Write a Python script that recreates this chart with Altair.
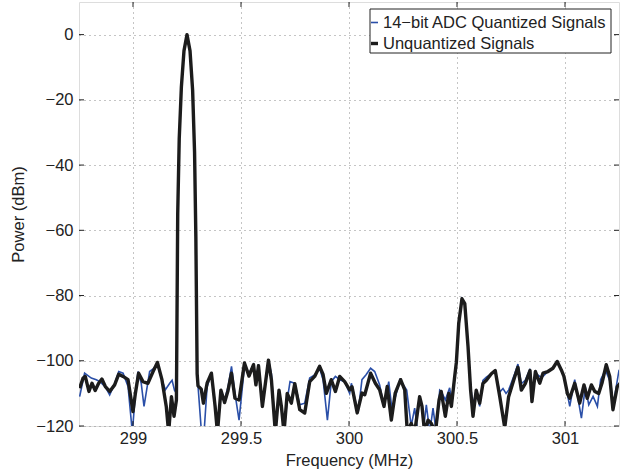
import altair as alt
import pandas as pd

# ---- Data ----
unq_freq = [
    298.753, 298.769, 298.779, 298.796, 298.810, 298.825, 298.841, 298.856, 298.872, 298.892,
    298.915, 298.934, 298.954, 298.977, 299.000, 299.011, 299.026, 299.046, 299.069, 299.093,
    299.113, 299.134, 299.154, 299.165, 299.178, 299.190, 299.201, 299.207, 299.214, 299.224,
    299.236, 299.250, 299.264, 299.276, 299.285, 299.291, 299.297, 299.301, 299.316, 299.326,
    299.343, 299.363, 299.380, 299.391, 299.407, 299.424, 299.440, 299.456, 299.472, 299.491,
    299.516, 299.537, 299.558, 299.569, 299.581, 299.599, 299.627, 299.641, 299.659, 299.676,
    299.687, 299.699, 299.714, 299.733, 299.749, 299.772, 299.795, 299.818, 299.841, 299.864,
    299.880, 299.895, 299.918, 299.937, 299.957, 299.980, 300.003, 300.014, 300.038, 300.060,
    300.073, 300.100, 300.122, 300.142, 300.162, 300.177, 300.196, 300.214, 300.239, 300.258,
    300.270, 300.288, 300.304, 300.327, 300.338, 300.350, 300.366, 300.381, 300.400, 300.417,
    300.427, 300.446, 300.462, 300.474, 300.489, 300.497, 300.508, 300.523, 300.536, 300.551,
    300.563, 300.574, 300.589, 300.605, 300.620, 300.636, 300.659, 300.677, 300.698, 300.721,
    300.739, 300.767, 300.782, 300.798, 300.816, 300.838, 300.847, 300.863, 300.883, 300.898,
    300.921, 300.944, 300.964, 300.983, 300.995, 301.011, 301.022, 301.045, 301.068, 301.088,
    301.103, 301.122, 301.138, 301.156, 301.171, 301.191, 301.207, 301.222, 301.242, 301.255,
]
unq_power = [
    -108.4, -105.3, -104.8, -109.4, -106.9, -109.1, -106.9, -105.6, -107.9, -109.4,
    -107.4, -104.1, -104.8, -105.8, -115.6, -110.0, -103.8, -106.4, -106.9, -103.3,
    -100.5, -105.8, -114.0, -122.0, -111.0, -117.0, -112.0, -55.0, -32.0, -16.0,
    -5.0, 0.0, -5.0, -17.0, -36.0, -62.0, -104.0, -107.7, -108.7, -113.0,
    -106.9, -103.8, -113.9, -122.0, -109.0, -112.8, -109.1, -103.8, -111.5, -112.0,
    -100.7, -104.7, -101.2, -107.4, -101.5, -114.0, -99.8, -106.0, -122.0, -109.0,
    -114.0, -122.0, -110.0, -113.0, -107.0, -115.0, -116.0, -106.4, -104.8, -101.7,
    -104.2, -110.0, -105.8, -109.4, -104.8, -106.4, -108.9, -108.0, -116.0, -109.9,
    -110.4, -103.8, -106.9, -108.9, -114.0, -107.9, -118.2, -109.9, -105.8, -108.9,
    -122.0, -119.2, -122.0, -111.0, -114.0, -122.0, -118.2, -119.2, -122.0, -112.0,
    -109.4, -117.0, -110.0, -114.0, -105.0, -100.5, -88.6, -81.0, -82.5, -95.6,
    -109.0, -117.0, -109.0, -113.0, -107.0, -106.0, -104.0, -103.0, -111.0, -120.5,
    -111.0, -105.0, -102.0, -109.0, -107.0, -103.0, -112.5, -103.3, -106.9, -103.8,
    -103.3, -102.3, -100.2, -102.8, -104.8, -110.0, -111.5, -106.9, -113.0, -107.4,
    -111.5, -107.4, -109.4, -110.0, -106.9, -101.2, -104.8, -115.0, -107.9, -106.9,
]

q_freq = [
    298.753, 298.776, 298.807, 298.830, 298.847, 298.872, 298.892, 298.915, 298.934, 298.954,
    298.977, 298.997, 299.011, 299.023, 299.038, 299.051, 299.077, 299.093, 299.113, 299.134,
    299.150, 299.170, 299.181, 299.192, 299.201, 299.207, 299.214, 299.224, 299.236, 299.250,
    299.264, 299.276, 299.285, 299.291, 299.297, 299.301, 299.317, 299.329, 299.343, 299.363,
    299.380, 299.391, 299.407, 299.424, 299.440, 299.456, 299.472, 299.491, 299.516, 299.537,
    299.558, 299.569, 299.581, 299.599, 299.627, 299.641, 299.659, 299.676, 299.687, 299.699,
    299.714, 299.727, 299.749, 299.772, 299.795, 299.818, 299.841, 299.864, 299.880, 299.900,
    299.918, 299.937, 299.957, 299.980, 300.003, 300.011, 300.042, 300.060, 300.079, 300.100,
    300.119, 300.142, 300.162, 300.184, 300.199, 300.236, 300.267, 300.288, 300.304, 300.319,
    300.343, 300.358, 300.374, 300.389, 300.404, 300.420, 300.427, 300.446, 300.466, 300.474,
    300.489, 300.497, 300.508, 300.523, 300.536, 300.551, 300.563, 300.574, 300.589, 300.605,
    300.620, 300.636, 300.659, 300.677, 300.698, 300.713, 300.727, 300.739, 300.767, 300.782,
    300.798, 300.816, 300.838, 300.847, 300.863, 300.883, 300.898, 300.921, 300.944, 300.964,
    300.983, 300.995, 301.022, 301.045, 301.076, 301.094, 301.110, 301.130, 301.150, 301.165,
    301.187, 301.212, 301.222, 301.249, 301.255,
]
q_power = [
    -111.0, -103.8, -105.3, -105.8, -106.4, -108.0, -110.5, -107.0, -103.3, -103.8,
    -107.9, -122.0, -110.0, -103.3, -106.9, -114.0, -103.3, -102.5, -101.2, -105.8,
    -108.9, -106.9, -106.0, -109.0, -110.0, -55.0, -32.0, -16.0, -5.0, 0.0,
    -5.0, -17.0, -36.0, -62.0, -104.0, -107.7, -122.0, -122.0, -108.0, -103.8,
    -113.0, -122.0, -110.0, -112.0, -108.0, -101.7, -110.0, -118.2, -101.7, -103.8,
    -101.2, -106.0, -101.0, -114.0, -99.8, -104.0, -122.0, -109.0, -114.0, -122.0,
    -112.0, -106.4, -106.9, -113.5, -113.0, -105.3, -104.3, -102.3, -105.8, -118.2,
    -106.4, -104.8, -105.8, -106.4, -110.0, -106.9, -116.0, -105.8, -104.3, -102.3,
    -103.3, -107.4, -114.0, -106.4, -115.0, -105.8, -109.0, -120.0, -114.5, -122.0,
    -122.0, -113.5, -122.0, -114.5, -122.0, -109.0, -109.4, -112.0, -108.3, -112.0,
    -105.0, -100.5, -88.6, -81.0, -82.5, -95.6, -108.0, -113.5, -109.0, -114.0,
    -106.0, -105.0, -104.0, -103.5, -109.6, -108.5, -110.0, -109.0, -104.0, -101.0,
    -107.0, -106.0, -102.5, -110.0, -103.8, -104.8, -104.8, -103.3, -102.3, -100.2,
    -102.8, -104.8, -114.0, -105.8, -117.6, -107.9, -113.5, -110.9, -114.0, -105.8,
    -102.8, -106.9, -114.0, -103.3, -104.0,
]

x_ticks = [299, 299.5, 300, 300.5, 301]
y_ticks = [-120, -100, -80, -60, -40, -20, 0]
x_domain = [298.75, 301.25]
y_domain = [-120, 10]
legend_labels = ["14\u2212bit ADC Quantized Signals", "Unquantized Signals"]
series_colors = ["#2a4fa8", "#1c1c1c"]

# ---- Styling ----
W, H = 540, 424
FONT = "Liberation Sans"
FS = 16.5
INK = "#222222"

xs = alt.Scale(domain=x_domain, nice=False, zero=False)
ys = alt.Scale(domain=y_domain, nice=False, zero=False)

x_axis = alt.Axis(values=x_ticks, format="~g", title="Frequency (MHz)", grid=True,
                  gridColor="#8a8a8a", gridDash=[1, 4], gridWidth=1, ticks=False, domain=False,
                  labelFont=FONT, labelFontSize=FS, labelColor=INK, labelPadding=4,
                  titleFont=FONT, titleFontSize=FS, titleFontWeight="normal", titleColor=INK,
                  titlePadding=6)
y_axis = alt.Axis(values=y_ticks, title="Power (dBm)", grid=True,
                  gridColor="#8a8a8a", gridDash=[1, 4], gridWidth=1, ticks=False, domain=False,
                  labelFont=FONT, labelFontSize=FS, labelColor=INK, labelPadding=6,
                  titleFont=FONT, titleFontSize=FS, titleFontWeight="normal", titleColor=INK,
                  titlePadding=9)

def X(field="f"):
    return alt.X(f"{field}:Q", scale=xs, axis=x_axis)

def Y(field="p"):
    return alt.Y(f"{field}:Q", scale=ys, axis=y_axis)

df_q = pd.DataFrame({"f": q_freq, "p": q_power})
df_u = pd.DataFrame({"f": unq_freq, "p": unq_power})

quant = alt.Chart(df_q).mark_line(color=series_colors[0], strokeWidth=1.6, clip=True).encode(x=X(), y=Y())
unq = alt.Chart(df_u).mark_line(color=series_colors[1], strokeWidth=3.4, clip=True,
                                strokeJoin="round").encode(x=X(), y=Y())

# inward ticks (MATLAB style)
yt = pd.DataFrame({"p": y_ticks})
xt = pd.DataFrame({"f": x_ticks})
tick_l = alt.Chart(yt).mark_rule(color=INK).encode(y=Y(), x=alt.value(0), x2=alt.value(5))
tick_r = alt.Chart(yt).mark_rule(color=INK).encode(y=Y(), x=alt.value(W), x2=alt.value(W - 5))
tick_b = alt.Chart(xt).mark_rule(color=INK).encode(x=X(), y=alt.value(H), y2=alt.value(H - 5))
tick_t = alt.Chart(xt).mark_rule(color=INK).encode(x=X(), y=alt.value(0), y2=alt.value(5))

# legend box
leg_df = pd.DataFrame({"label": legend_labels})
box = alt.Chart(leg_df.head(1)).mark_rect(fill="white", stroke=INK, strokeWidth=1).encode(
    x=alt.value(291), x2=alt.value(532), y=alt.value(7), y2=alt.value(51))
rows = []
row_y = [20.5, 41.5]
widths = [1.6, 3.4]
for i in range(2):
    d = leg_df.iloc[[i]]
    rows.append(alt.Chart(d).mark_rule(color=series_colors[i], strokeWidth=widths[i]).encode(
        x=alt.value(292), x2=alt.value(299), y=alt.value(row_y[i])))
    rows.append(alt.Chart(d).mark_text(font=FONT, fontSize=FS, color=INK, align="left",
                                        baseline="middle").encode(
        x=alt.value(304), y=alt.value(row_y[i] + 0.5), text="label:N"))

chart = alt.layer(quant, unq, tick_l, tick_r, tick_b, tick_t, box, *rows).properties(
    width=W, height=H,
    padding={"left": 79, "top": 2, "right": 12, "bottom": 48},
    autosize=alt.AutoSizeParams(type="none"),
).configure_view(stroke=INK, strokeWidth=1.2).configure(background="white")

chart.save("out.html", embed_options={"renderer": "svg", "actions": False})
